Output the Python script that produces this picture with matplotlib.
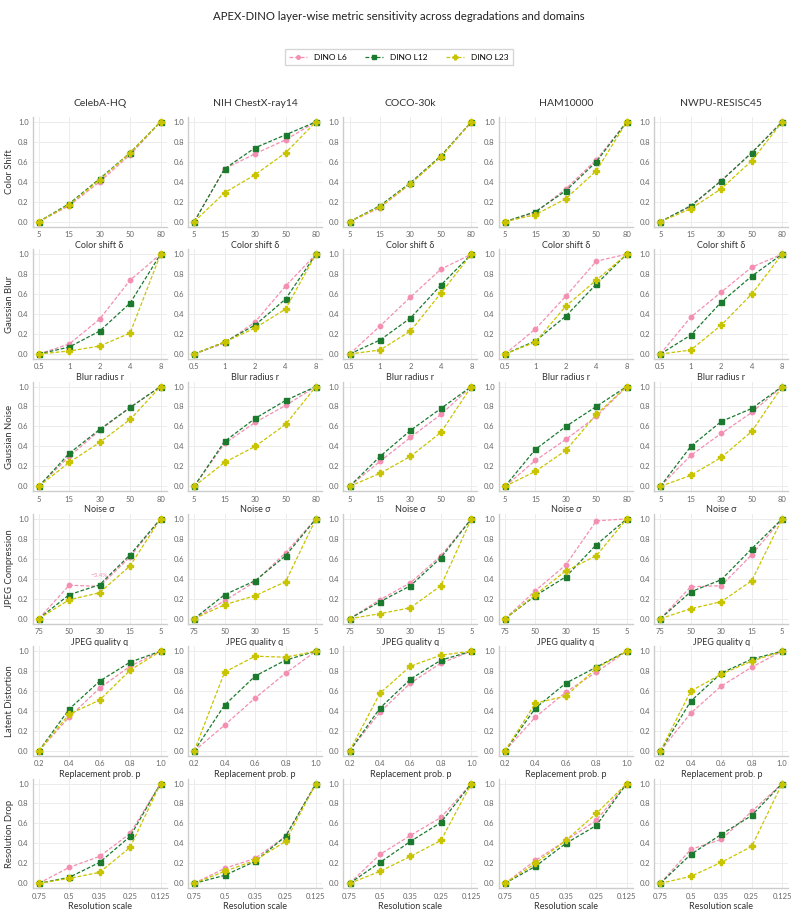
import matplotlib
matplotlib.use("Agg")
import matplotlib.pyplot as plt

plt.rcParams['font.family'] = ['Lato', 'DejaVu Sans']

datasets = ["CelebA-HQ", "NIH ChestX-ray14", "COCO-30k", "HAM10000", "NWPU-RESISC45"]
degradations = ["Color Shift", "Gaussian Blur", "Gaussian Noise", "JPEG Compression",
                "Latent Distortion", "Resolution Drop"]
xlabels = ["Color shift δ", "Blur radius r", "Noise σ", "JPEG quality q",
           "Replacement prob. p", "Resolution scale"]
xticks = [
    ["5", "15", "30", "50", "80"],
    ["0.5", "1", "2", "4", "8"],
    ["5", "15", "30", "50", "80"],
    ["75", "50", "30", "15", "5"],
    ["0.2", "0.4", "0.6", "0.8", "1.0"],
    ["0.75", "0.5", "0.35", "0.25", "0.125"],
]
series_names = ["DINO L6", "DINO L12", "DINO L23"]

# values[degradation][dataset] = (L6, L12, L23)
color_shift = [
    ([0, .16, .40, .67, 1], [0, .18, .43, .69, 1], [0, .17, .42, .69, 1]),
    ([0, .53, .68, .82, 1], [0, .53, .74, .87, 1], [0, .29, .47, .69, 1]),
    ([0, .14, .38, .65, 1], [0, .16, .39, .66, 1], [0, .15, .38, .65, 1]),
    ([0, .09, .33, .62, 1], [0, .10, .31, .60, 1], [0, .07, .23, .51, 1]),
    ([0, .15, .41, .69, 1], [0, .16, .41, .69, 1], [0, .13, .33, .61, 1]),
]
gaussian_blur = [
    ([0, .10, .35, .74, 1], [0, .07, .23, .51, 1], [0, .03, .08, .21, 1]),
    ([0, .11, .32, .68, 1], [0, .12, .29, .55, 1], [0, .12, .26, .45, 1]),
    ([0, .28, .57, .85, 1], [0, .14, .36, .69, 1], [0, .04, .23, .61, 1]),
    ([0, .25, .58, .93, 1], [0, .13, .38, .70, 1], [0, .12, .48, .74, 1]),
    ([0, .37, .62, .87, 1], [0, .19, .52, .78, 1], [0, .04, .29, .60, 1]),
]
gaussian_noise = [
    ([0, .30, .56, .79, 1], [0, .33, .57, .79, 1], [0, .24, .44, .67, 1]),
    ([0, .43, .64, .81, 1], [0, .45, .68, .86, 1], [0, .24, .40, .62, 1]),
    ([0, .25, .49, .72, 1], [0, .30, .56, .78, 1], [0, .13, .30, .54, 1]),
    ([0, .26, .47, .70, 1], [0, .37, .60, .80, 1], [0, .15, .36, .72, 1]),
    ([0, .31, .53, .74, 1], [0, .40, .65, .78, 1], [0, .11, .29, .55, 1]),
]
jpeg = [
    ([0, .335, .324, .62, 1], [0, .24, .34, .64, 1], [0, .19, .26, .53, 1]),
    ([0, .18, .37, .66, 1], [0, .24, .38, .63, 1], [0, .14, .23, .37, 1]),
    ([0, .19, .36, .63, 1], [0, .17, .33, .61, 1], [0, .05, .11, .33, 1]),
    ([0, .28, .54, .98, 1], [0, .23, .42, .74, 1], [0, .24, .48, .63, 1]),
    ([0, .32, .33, .64, 1], [0, .27, .39, .70, 1], [0, .10, .17, .38, 1]),
]
latent = [
    ([0, .34, .63, .85, 1], [0, .42, .70, .89, 1], [0, .37, .51, .81, 1]),
    ([0, .26, .53, .78, 1], [0, .46, .75, .91, 1], [0, .79, .95, .94, 1]),
    ([0, .39, .68, .88, 1], [0, .43, .72, .91, 1], [0, .58, .85, .96, 1]),
    ([0, .34, .59, .79, 1], [0, .43, .68, .84, 1], [0, .48, .55, .83, 1]),
    ([0, .38, .65, .84, 1], [0, .50, .78, .92, 1], [0, .60, .77, .90, 1]),
]
resolution = [
    ([0, .16, .27, .50, 1], [0, .06, .21, .47, 1], [0, .05, .11, .36, 1]),
    ([0, .15, .25, .47, 1], [0, .08, .22, .47, 1], [0, .12, .23, .42, 1]),
    ([0, .29, .48, .66, 1], [0, .21, .42, .61, 1], [0, .12, .27, .43, 1]),
    ([0, .23, .43, .63, 1], [0, .17, .40, .58, 1], [0, .20, .43, .70, 1]),
    ([0, .34, .44, .72, 1], [0, .29, .49, .68, 1], [0, .07, .21, .37, 1]),
]
all_values = [color_shift, gaussian_blur, gaussian_noise, jpeg, latent, resolution]

colors = ["#f48fb1", "#1b7a2e", "#c9c400"]
markers = ["o", "s", "P"]
msizes = [3.2, 3.6, 4.4]

fig, axes = plt.subplots(6, 5, figsize=(7.97, 9.13), dpi=100)
fig.subplots_adjust(left=0.041, right=0.989, top=0.872, bottom=0.027,
                    wspace=0.16, hspace=0.205)

label_col = "#333333"
tick_col = "#666666"
for r in range(6):
    for c in range(5):
        ax = axes[r, c]
        xs = list(range(5))
        for s in range(3):
            ax.plot(xs, all_values[r][c][s], linestyle="--", color=colors[s],
                    marker=markers[s], markersize=msizes[s], linewidth=0.9,
                    dashes=(3, 1.5), label=series_names[s], zorder=3)
        ax.set_xlim(-0.2, 4.2)
        ax.set_ylim(-0.05, 1.05)
        ax.set_xticks(xs)
        ax.set_xticklabels(xticks[r])
        ax.set_yticks([0, 0.2, 0.4, 0.6, 0.8, 1.0])
        ax.set_yticklabels(["0.0", "0.2", "0.4", "0.6", "0.8", "1.0"])
        ax.tick_params(labelsize=5.5, colors=tick_col, length=0, pad=3)
        ax.grid(True, color="#ececec", linewidth=0.7)
        ax.set_axisbelow(True)
        for sp in ["top", "right"]:
            ax.spines[sp].set_visible(False)
        for sp in ["left", "bottom"]:
            ax.spines[sp].set_color("#cccccc")
            ax.spines[sp].set_linewidth(1.0)
        ax.set_xlabel(xlabels[r], fontsize=6.5, color=label_col, labelpad=2)
        if c == 0:
            ax.set_ylabel(degradations[r], fontsize=6.8, color=label_col, labelpad=3)
        if r == 0:
            ax.set_title(datasets[c], fontsize=7.5, color=label_col, pad=8)

# annotation in JPEG / CelebA-HQ panel
axes[3, 0].annotate("−3.4%", xy=(2, all_values[3][0][0][2]), xytext=(2, 0.43),
                    fontsize=4.5, color=colors[0], ha="center", va="center")

handles, labels = axes[0, 0].get_legend_handles_labels()
fig.legend(handles, labels, loc="center", bbox_to_anchor=(0.5, 0.9375), ncol=3,
           fontsize=6, frameon=True, edgecolor="#cccccc", fancybox=False,
           handlelength=2.2, columnspacing=2.2, borderpad=0.5, markerscale=0.8)

fig.suptitle("APEX-DINO layer-wise metric sensitivity across degradations and domains",
             fontsize=8.2, y=0.988, color="#222222")

fig.savefig("out.png", dpi=100)
